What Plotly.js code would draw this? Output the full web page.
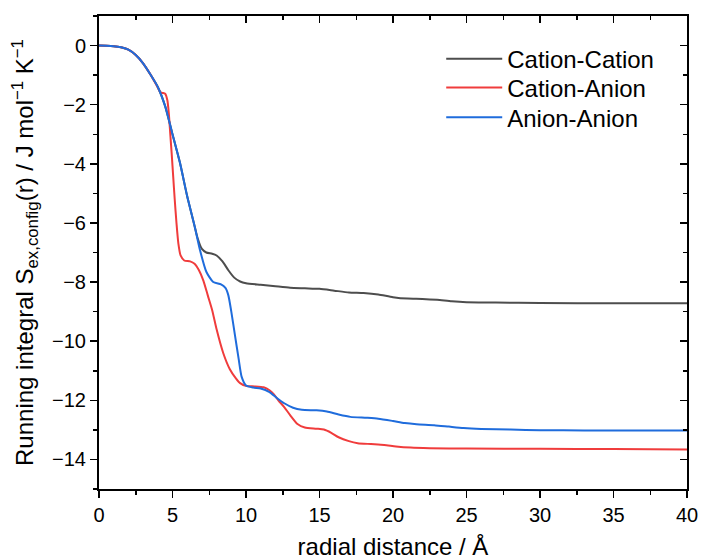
<!DOCTYPE html>
<html>
<head>
<meta charset="utf-8">
<script src="https://cdn.plot.ly/plotly-3.0.1.min.js"></script>
<style>html,body{margin:0;padding:0;background:#fff;}#chart{width:701px;height:560px;}</style>
</head>
<body>
<div id="chart"></div>
<script>
// Cation-Cation
const ccX = [0,0.5,1,1.5,2,2.5,3,3.5,4,4.5,5,5.5,6,6.5,6.7,7.0,7.3,7.7,8.0,8.4,8.8,9.2,9.6,10,11,12,13,14,15,16,17,18,19,20,21,22,23,24,25,27,30,35,40];
const ccY = [0,-0.005,-0.02,-0.06,-0.14,-0.32,-0.6,-0.98,-1.4,-2.05,-3.0,-3.95,-5.1,-6.1,-6.5,-6.88,-7.0,-7.04,-7.1,-7.3,-7.6,-7.85,-7.98,-8.04,-8.09,-8.14,-8.19,-8.21,-8.23,-8.29,-8.35,-8.37,-8.42,-8.51,-8.56,-8.57,-8.6,-8.65,-8.68,-8.69,-8.71,-8.72,-8.72];
// Cation-Anion
const caX = [0,0.5,1,1.5,2,2.5,3,3.5,4.0,4.15,4.3,4.5,4.65,4.75,4.85,4.95,5.05,5.15,5.27,5.4,5.55,5.8,6.2,6.5,6.8,7.1,7.4,7.7,8.0,8.45,8.9,9.3,9.6,10.05,10.6,11.2,11.6,11.9,12.2,12.6,13.0,13.5,14.0,14.8,15.3,15.8,16.3,17.0,17.6,18.5,19.4,20.2,21.2,22.5,25,30,35,40];
const caY = [0,-0.005,-0.02,-0.06,-0.14,-0.32,-0.6,-0.98,-1.42,-1.56,-1.6,-1.63,-1.85,-2.3,-3.0,-3.7,-4.45,-5.2,-6.0,-6.7,-7.1,-7.27,-7.3,-7.38,-7.6,-7.95,-8.45,-8.95,-9.6,-10.4,-10.95,-11.25,-11.42,-11.52,-11.53,-11.56,-11.66,-11.8,-12.0,-12.23,-12.5,-12.8,-12.92,-12.96,-12.99,-13.1,-13.25,-13.38,-13.45,-13.48,-13.51,-13.56,-13.6,-13.62,-13.63,-13.64,-13.65,-13.66];
// Anion-Anion
const aaX = [0,0.5,1,1.5,2,2.5,3,3.5,4,4.5,5,5.5,6,6.5,6.86,7.3,7.77,8.3,8.6,8.8,9.0,9.25,9.5,9.7,10.0,10.5,11.0,11.6,12.1,12.6,13.2,13.8,14.8,15.5,16.3,17.1,18.2,19,20,20.8,21.6,22.8,23.8,24.8,26,28,30,33,40];
const aaY = [0,-0.005,-0.02,-0.06,-0.14,-0.32,-0.6,-0.98,-1.4,-2.05,-3.0,-3.95,-5.1,-6.1,-6.9,-7.65,-8.0,-8.08,-8.2,-8.45,-9.0,-9.8,-10.6,-11.2,-11.5,-11.57,-11.6,-11.72,-11.92,-12.1,-12.25,-12.32,-12.34,-12.38,-12.48,-12.56,-12.59,-12.62,-12.7,-12.77,-12.81,-12.84,-12.89,-12.94,-12.97,-12.99,-13.01,-13.02,-13.02];

const names = ['Cation-Cation','Cation-Anion','Anion-Anion'];
const colors = ['#4d4d4d','#f03c3c','#1f6cdc'];
const xs = [ccX, caX, aaX];
const ys = [ccY, caY, aaY];
const legendIds = ['legend','legend2','legend3'];
const legendRowsY = [0.909, 0.848, 0.785];

const traces = names.map((n,i)=>({
  x: xs[i], y: ys[i], name: n, type:'scatter', mode:'lines', legend: legendIds[i],
  line:{color:colors[i], width:2, shape:'spline', smoothing:0.6}
}));
traces.push({x:[], y:[], xaxis:'x2', yaxis:'y2', showlegend:false, hoverinfo:'skip', type:'scatter', mode:'lines'});

const font = {family:'"Liberation Sans", Arial, sans-serif', color:'#000'};
const layout = {
  width:701, height:560,
  margin:{l:99, r:14, t:16, b:71},
  paper_bgcolor:'#fff', plot_bgcolor:'#fff',
  font: Object.assign({size:20}, font),
  showlegend:true,
  xaxis:{range:[0,40], dtick:5, tick0:0, ticks:'outside', ticklen:7, tickwidth:1.5, tickcolor:'#000',
         showline:true, linecolor:'#000', linewidth:2, showgrid:false, zeroline:false,
         tickfont:Object.assign({size:20}, font),
         minor:{dtick:2.5, ticks:'outside', ticklen:4, tickwidth:1.5, tickcolor:'#000', showgrid:false},
         title:{text:'radial distance / Å', font:Object.assign({size:24}, font), standoff:22}},
  yaxis:{range:[-15,1], dtick:2, tick0:0, ticks:'outside', ticklen:7, tickwidth:1.5, tickcolor:'#000',
         showline:true, linecolor:'#000', linewidth:2, showgrid:false, zeroline:false,
         tickfont:Object.assign({size:20}, font),
         minor:{dtick:1, ticks:'outside', ticklen:4, tickwidth:1.5, tickcolor:'#000', showgrid:false},
         title:{text:'Running integral S<sub>ex,config</sub>(r) / J mol<sup>−1</sup> K<sup>−1</sup>', font:Object.assign({size:24}, font), standoff:12}},
  xaxis2:{overlaying:'x', side:'top', anchor:'y', range:[0,40], dtick:5, tick0:0, ticks:'inside', ticklen:7, tickwidth:1.5, tickcolor:'#000',
          showticklabels:false, showline:true, linecolor:'#000', linewidth:2, showgrid:false, zeroline:false,
          minor:{dtick:2.5, ticks:'inside', ticklen:4, tickwidth:1.5, tickcolor:'#000', showgrid:false}},
  yaxis2:{overlaying:'y', side:'right', anchor:'x', range:[-15,1], dtick:2, tick0:0, ticks:'inside', ticklen:7, tickwidth:1.5, tickcolor:'#000',
          showticklabels:false, showline:true, linecolor:'#000', linewidth:2, showgrid:false, zeroline:false,
          minor:{dtick:1, ticks:'inside', ticklen:4, tickwidth:1.5, tickcolor:'#000', showgrid:false}}
};
legendIds.forEach((id,i)=>{
  layout[id] = {x:0.582, y:legendRowsY[i], xanchor:'left', yanchor:'middle', bgcolor:'rgba(0,0,0,0)', borderwidth:0,
                itemwidth:56, font:Object.assign({size:24}, font)};
});
Plotly.newPlot('chart', traces, layout, {displayModeBar:false, staticPlot:true});
</script>
</body>
</html>
